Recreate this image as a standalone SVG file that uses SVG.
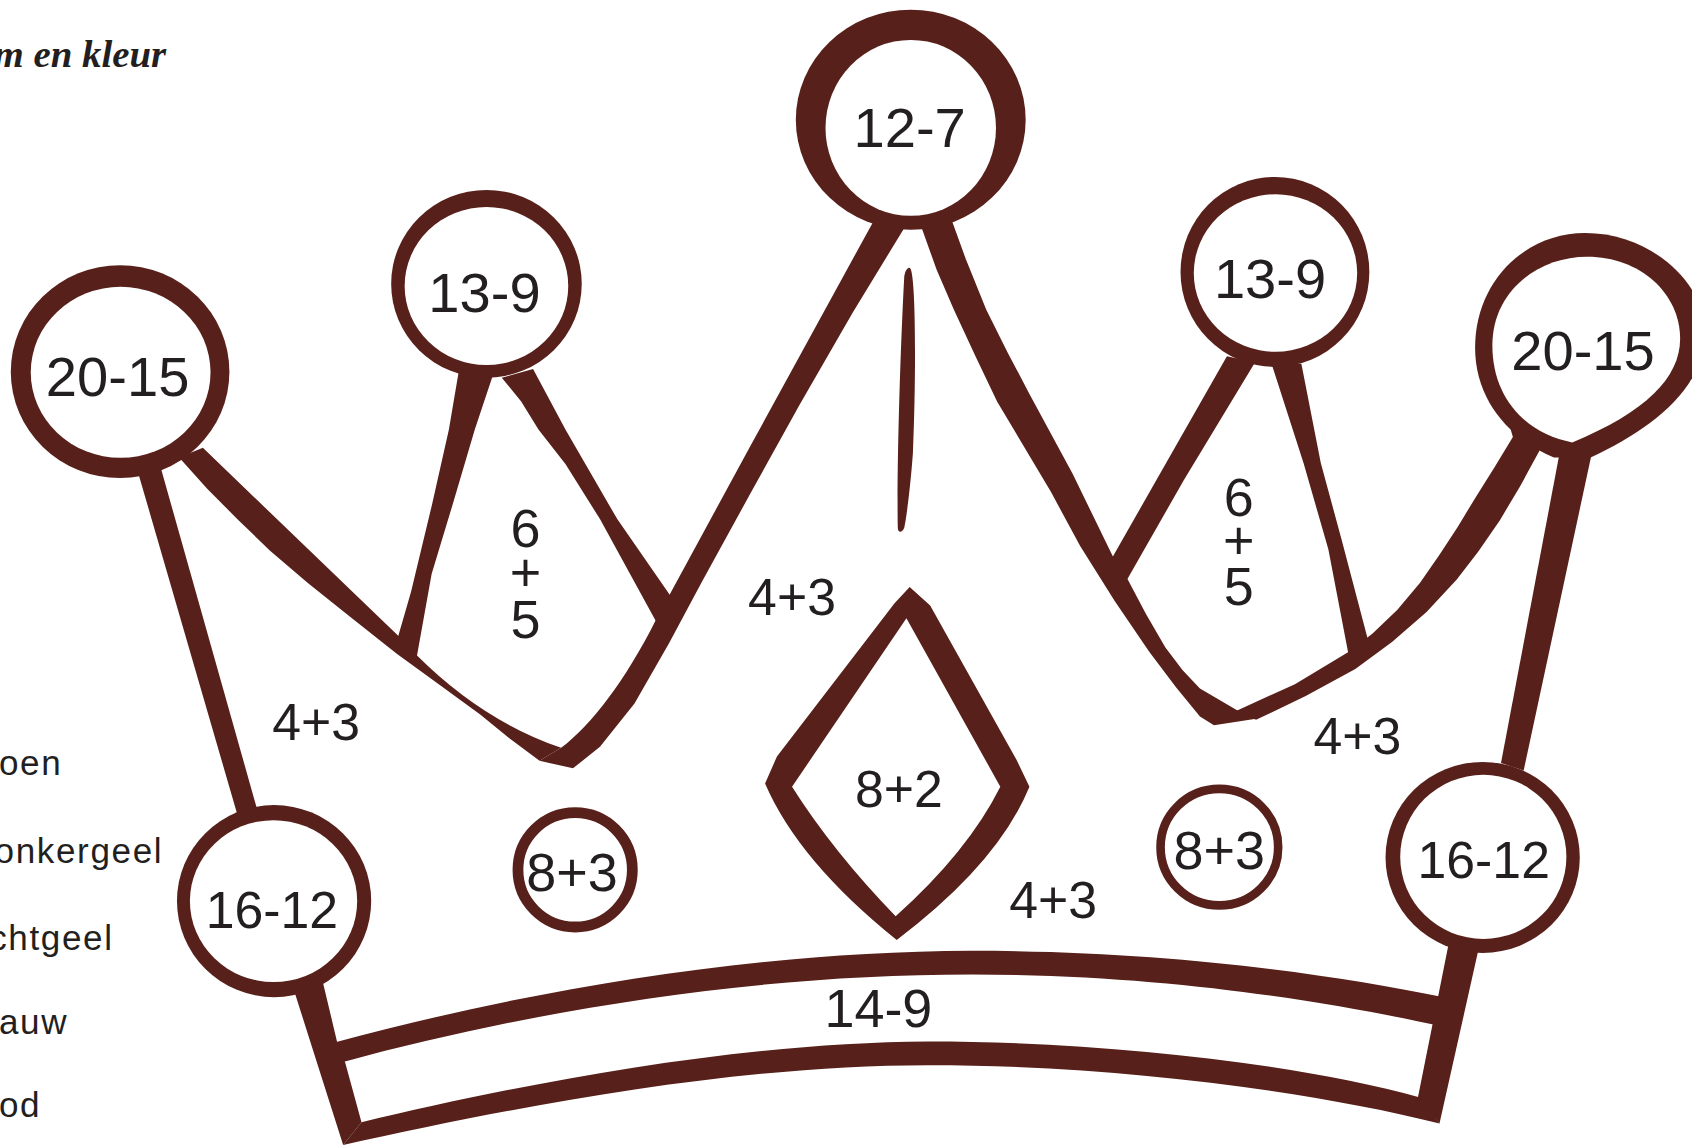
<svg xmlns="http://www.w3.org/2000/svg" width="1692" height="1145" viewBox="0 0 1692 1145">
<style>
.b{fill:#58201a}
.w{fill:#ffffff}
.t{font-family:"Liberation Sans",Arial,sans-serif;fill:#231f20;text-anchor:middle}
.big{font-size:52px}
.mid{font-size:48px}
.med{font-size:50px}
.leg{font-family:"Liberation Sans",Arial,sans-serif;fill:#231f20;font-size:32.5px;letter-spacing:1.5px}
.ttl{font-family:"Liberation Serif",serif;font-style:italic;font-weight:bold;font-size:36px;fill:#231f20}
.ring{fill:none;stroke:#58201a}
</style>
<rect width="1692" height="1145" fill="#ffffff"/>
<g transform="scale(1.07908,1.07917)">
<g id="title"><text class="ttl" x="-6" y="62">m en kleur</text></g>
<g id="legend">
<text class="leg" x="-1" y="718">oen</text>
<text class="leg" x="-5" y="800">onkergeel</text>
<text class="leg" x="-10" y="880">chtgeel</text>
<text class="leg" x="-1" y="958">auw</text>
<text class="leg" x="-1" y="1035">od</text>
</g>
<g id="connectors" class="b">
<path d="M128,438 L148,430 L238,749 L220,755 Z"/>
<path d="M166,424 L188,415 L370,590 L386,607 Q447,668 520,693 L500,705 L472,684 L445,662 L405,633 L368,606 L325,572 L285,540 L250,510 L221,482 L192,453 Z"/>
<path d="M425,345 L457,347 L440,398 L419,469 L400,532 L386,610 L368,593 L381,548 L400,469 L416,398 Z"/>
<path d="M465,350 L494,342 L524,398 L572,481 L624,556 L608,576 L556,481 L524,430 L499,398 L483,372 Z"/>
<path d="M810,204 L840,208 L790,290 L741,375 L695,458 L650,540 L620,596 L588,652 L556,692 L531,712 L500,705 L520,693 C548,672 580,630 608,574 L620,552 L695,414 Z"/>
<path d="M853,208 L882,204 L895,240 L914,287 L934,327 L954,365 L994,439 L1031,515 L1044,535 L1062,569 L1080,600 L1096,621 L1112,638 L1146,658 L1164,666 L1125,672 L1112,664 L1090,637 L1065,604 L1033,557 L1001,506 L974,456 L924,372 L904,330 L884,287 L868,250 Z"/>
<path d="M1137,330 L1163,336 L1097,445 L1044,538 L1030,518 Z"/>
<path d="M1178,336 L1206,337 L1224,429 L1243,499 L1268,594 L1250,608 L1231,509 L1208,429 Z"/>
<path d="M1400,398 L1430,410 L1427,417 L1409,450 L1390,482 L1370,511 L1350,537 L1322,567 L1290,595 L1256,620 L1210,645 L1164,667 L1145,659 L1200,634 L1250,604 L1272,587 L1295,565 L1316,540 L1334,514 L1351,488 L1368,460 L1385,433 L1402,405 Z"/>
<path d="M1446,416 L1476,416 L1412,714 L1391,707 Z"/>
<path d="M270,910 L298,905 L313,968 L320,985 L335,1040 L318,1061 Z"/>
<path d="M1343,872 L1371,876 L1334,1041 L1314,1017 Z"/>
<path d="M310,966 C500,915 700,882 900,881 C1080,881 1230,902 1338,924 L1336,951 C1230,928 1080,903 900,903 C700,903 500,935 318,984 Z"/>
<path d="M335,1040 C480,1005 680,966 860,965 C1020,965 1200,985 1316,1017 L1334,1041 C1210,1010 1030,987 860,987 C680,987 480,1025 318,1061 Z"/>
<path d="M843,248 C849,250 849,350 846,420 C843,460 839,485 838,489 C836,494 832,494 832,489 C831,440 834,330 838,256 C839,250 841,248 843,248 Z"/>
</g>
<g id="ball-20-15-left">
<ellipse class="b" cx="111.3" cy="344.4" rx="101.3" ry="98.6"/>
<ellipse class="w" cx="111.8" cy="345" rx="83.3" ry="79.2"/>
<text class="t big" x="109" y="367">20-15</text>
</g>
<g id="ball-13-9-left">
<ellipse class="b" cx="450.8" cy="263" rx="88.3" ry="87"/>
<ellipse class="w" cx="450.8" cy="265" rx="75.8" ry="73.2"/>
<text class="t big" x="449" y="289">13-9</text>
</g>
<g id="ball-12-7">
<ellipse class="b" cx="844" cy="111" rx="106.5" ry="102"/>
<ellipse class="w" cx="844" cy="118.5" rx="79" ry="81.5"/>
<text class="t big" x="843" y="136">12-7</text>
</g>
<g id="ball-13-9-right">
<ellipse class="b" cx="1181.5" cy="252" rx="87.5" ry="88"/>
<ellipse class="w" cx="1182" cy="253" rx="75.7" ry="73"/>
<text class="t big" x="1177" y="276">13-9</text>
</g>
<g id="ball-20-15-right">
<path class="b" d="M1440,424 C1400,407 1367,372 1367,322 C1367,262 1412,216 1469,216 C1530,216 1580,262 1580,308 C1580,360 1530,398 1474,424 Z"/>
<path class="w" d="M1457,410 C1415,402 1383,370 1383,320 C1383,270 1425,238 1471,238 C1520,238 1557,272 1557,314 C1557,350 1525,382 1457,410 Z"/>
<text class="t big" x="1467" y="343">20-15</text>
</g>
<g id="ball-16-12-left">
<ellipse class="b" cx="254" cy="835" rx="90" ry="89"/>
<ellipse class="w" cx="253.5" cy="835" rx="77.5" ry="75"/>
<text class="t mid" x="252" y="860">16-12</text>
</g>
<g id="ball-16-12-right">
<ellipse class="b" cx="1374" cy="794.5" rx="90" ry="88.5"/>
<ellipse class="w" cx="1374.6" cy="794" rx="77" ry="76"/>
<text class="t mid" x="1375" y="814">16-12</text>
</g>
<g id="diamond-8-2">
<path class="b" fill-rule="evenodd" d="M843,544 L862,561 L942,704 L954,729 Q925,800 831,871 Q740,798 709,726 L720,701 L829,559 Z M840,573 L927,729 Q897,789 830,849 Q772,789 734,729 Z"/>
<text class="t mid" x="833" y="748">8+2</text>
</g>
<g id="circle-8-3-left">
<ellipse class="ring" stroke-width="10" cx="533" cy="806" rx="53" ry="53"/>
<text class="t med" x="530" y="826">8+3</text>
</g>
<g id="circle-8-3-right">
<ellipse class="ring" stroke-width="8" cx="1130" cy="785" rx="54.5" ry="54"/>
<text class="t med" x="1130" y="805">8+3</text>
</g>
<g id="tooth-left-label">
<text class="t med" x="487" y="507">6</text>
<text class="t med" x="487" y="548">+</text>
<text class="t med" x="487" y="591">5</text>
</g>
<g id="tooth-right-label">
<text class="t med" x="1148" y="478">6</text>
<text class="t med" x="1148" y="518">+</text>
<text class="t med" x="1148" y="561">5</text>
</g>
<g id="label-4-3-a"><text class="t mid" x="293" y="686">4+3</text></g>
<g id="label-4-3-b"><text class="t mid" x="734" y="570">4+3</text></g>
<g id="label-4-3-c"><text class="t mid" x="976" y="851">4+3</text></g>
<g id="label-4-3-d"><text class="t mid" x="1258" y="699">4+3</text></g>
<g id="band-14-9"><text class="t med" x="814" y="952">14-9</text></g>
</g>
</svg>
